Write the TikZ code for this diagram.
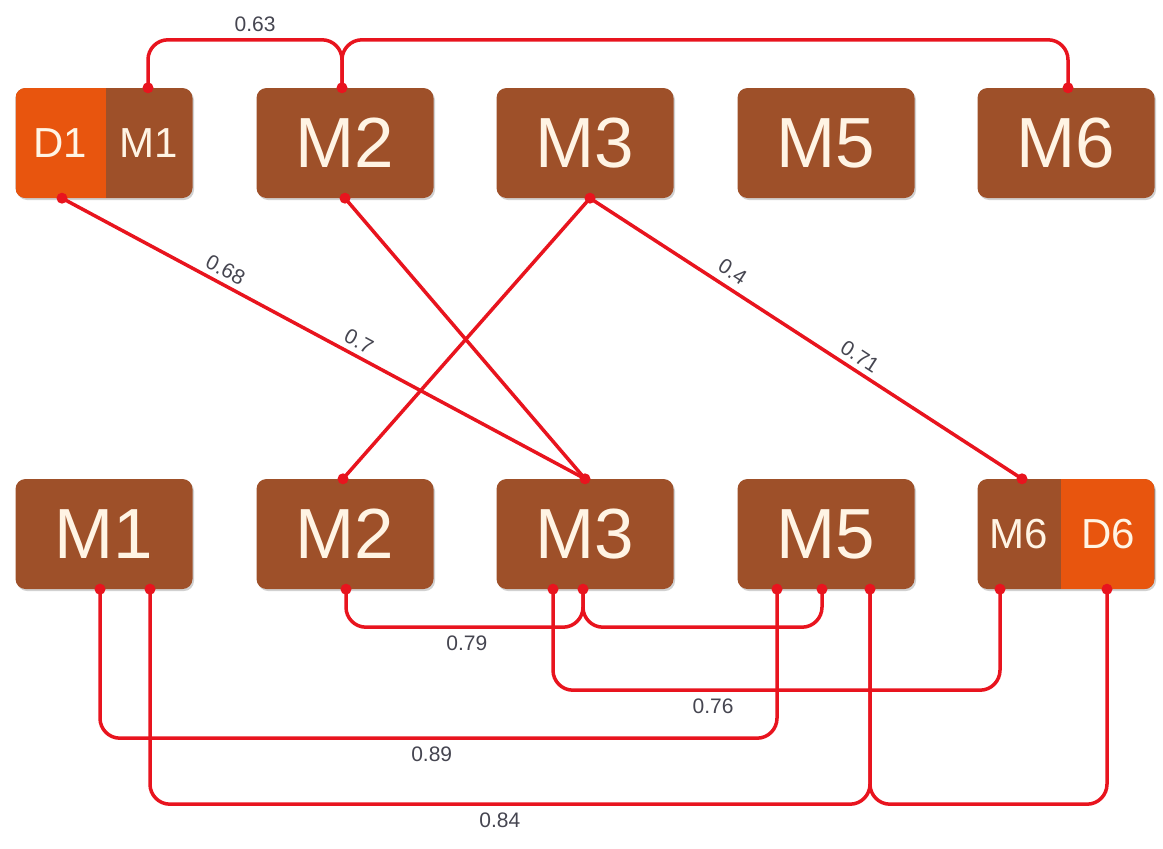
\documentclass[tikz,border=0pt]{standalone}
\usepackage{fontspec}
\setmainfont{Liberation Sans}
\usetikzlibrary{calc,shadows}
\definecolor{boxbrown}{HTML}{9E5029}
\definecolor{boxorange}{HTML}{E8550E}
\definecolor{linkred}{HTML}{E8141E}
\definecolor{labelgray}{HTML}{454550}
\definecolor{boxtext}{HTML}{FFF4E4}
\begin{document}
\begin{tikzpicture}[x=1pt,y=-1pt,
  box/.style={fill=boxbrown, rounded corners=10pt, minimum width=177pt,
    minimum height=110pt, inner sep=0pt, text=boxtext,
    font=\fontsize{71}{71}\selectfont,
    drop shadow={fill=black, opacity=0.18, shadow xshift=1.5pt, shadow yshift=-2pt}},
  leftpart/.style={path picture={\fill[boxorange, sharp corners] (path picture bounding box.north west)
    rectangle ([xshift=90pt]path picture bounding box.south west);}},
  rightpart/.style={path picture={\fill[boxorange, sharp corners] ([xshift=-94pt]path picture bounding box.north east)
    rectangle (path picture bounding box.south east);}},
  smalltxt/.style={text=boxtext, inner sep=0pt, font=\fontsize{42}{42}\selectfont},
  link/.style={draw=linkred, line width=3.5pt, rounded corners=20pt},
  lbl/.style={text=labelgray, inner sep=2pt, font=\fontsize{21}{21}\selectfont},
  port/.style={fill=linkred}
]
\useasboundingbox (0,0) rectangle (1163,849);

% top row
\node[box, leftpart] (t1) at (104,143) {};
\node[smalltxt] (t1dtxt) at (60,143) {D1};
\node[smalltxt] (t1mtxt) at (149,143) {M1};
\node[box] (t2) at (345,143) {M2};
\node[box] (t3) at (585,143) {M3};
\node[box] (t5) at (826,143) {M5};
\node[box] (t6) at (1066,143) {M6};

% bottom row
\node[box] (b1) at (104,534) {M1};
\node[box] (b2) at (345,534) {M2};
\node[box] (b3) at (585,534) {M3};
\node[box] (b5) at (826,534) {M5};
\node[box, rightpart] (b6) at (1066,534) {};
\node[smalltxt] (b6mtxt) at (1019,534) {M6};
\node[smalltxt] (b6dtxt) at (1108,534) {D6};

% connection points
\coordinate (t1u) at ([xshift=44pt]t1.north);
\coordinate (t1d) at ([xshift=-42pt]t1.south);
\coordinate (t2u) at ([xshift=-3pt]t2.north);
\coordinate (t2d) at (t2.south);
\coordinate (t3d) at ([xshift=5pt]t3.south);
\coordinate (t6u) at ([xshift=2pt]t6.north);
\coordinate (b2u) at ([xshift=-2pt]b2.north);
\coordinate (b3u) at (b3.north);
\coordinate (b6u) at ([xshift=-44pt]b6.north);
\coordinate (b1dl) at ([xshift=-4pt]b1.south);
\coordinate (b1dr) at ([xshift=46pt]b1.south);
\coordinate (b2d) at ([xshift=1pt]b2.south);
\coordinate (b3dl) at ([xshift=-32pt]b3.south);
\coordinate (b3dr) at ([xshift=-2pt]b3.south);
\coordinate (b5dl) at ([xshift=-49pt]b5.south);
\coordinate (b5dm) at ([xshift=-4pt]b5.south);
\coordinate (b5dr) at ([xshift=44pt]b5.south);
\coordinate (b6dm) at ([xshift=-66pt]b6.south);
\coordinate (b6dd) at ([xshift=41pt]b6.south);

% links above the top row
\draw[link] (t1u) -- ++(0,-48) -| node[lbl, above=4pt, pos=0.276] {0.63} (t2u);
\draw[link] (t2u) -- ++(0,-48) -| (t6u);

% links between the rows
\draw[link] (t1d) -- node[lbl, sloped, above=3pt, pos=0.30] {0.68}
                     node[lbl, sloped, above=3pt, pos=0.555] {0.7} (b3u);
\draw[link] (t2d) -- (b3u);
\draw[link] (t3d) -- (b2u);
\draw[link] (t3d) -- node[lbl, sloped, above=5pt, pos=0.31] {0.4}
                     node[lbl, sloped, above=3pt, pos=0.607] {0.71} (b6u);

% links below the bottom row
\draw[link] (b2d) -- ++(0,38) -| node[lbl, below=5pt, pos=0.255] {0.79} (b3dr);
\draw[link] (b3dr) -- ++(0,38) -| (b5dm);
\draw[link] (b3dl) -- ++(0,101) -| node[lbl, below=5pt, pos=0.179] {0.76} (b6dm);
\draw[link] (b5dl) -- ++(0,149) -| node[lbl, below=5pt, pos=0.255] {0.89} (b1dl);
\draw[link] (b5dr) -- ++(0,215) -| node[lbl, below=5pt, pos=0.257] {0.84} (b1dr);
\draw[link] (b5dr) -- ++(0,215) -| (b6dd);

% end dots
\foreach \p in {t1u,t1d,t2u,t2d,t3d,t6u,b2u,b3u,b6u,b1dl,b1dr,b2d,b3dl,b3dr,b5dl,b5dm,b5dr,b6dm,b6dd}
  \fill[port] (\p) circle (5.5);
\end{tikzpicture}
\end{document}
